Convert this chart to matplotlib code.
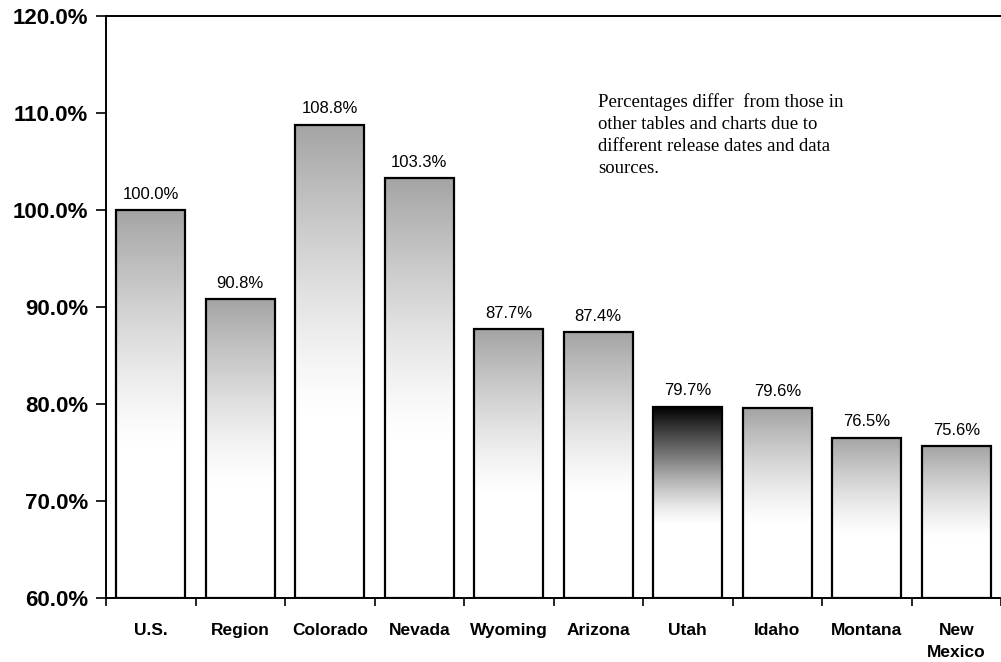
import numpy as np
import matplotlib.pyplot as plt
from matplotlib.colors import LinearSegmentedColormap

categories = ["U.S.", "Region", "Colorado", "Nevada", "Wyoming", "Arizona",
              "Utah", "Idaho", "Montana", "New\nMexico"]
values = [100.0, 90.8, 108.8, 103.3, 87.7, 87.4, 79.7, 79.6, 76.5, 75.6]
highlight = "Utah"
note = ("Percentages differ  from those in\nother tables and charts due to\n"
        "different release dates and data\nsources.")

fig = plt.figure(figsize=(10.01, 6.62), dpi=100)
ax = fig.add_axes([0.106, 0.097, 0.894, 0.879])

ymin, ymax = 60, 120
x = np.arange(len(categories))
width = 0.77

grey_cmap = LinearSegmentedColormap.from_list("g", ["white", "#a4a4a4"])
dark_cmap = LinearSegmentedColormap.from_list("d", ["white", "#777777", "black"])

bars = ax.bar(x, [v - ymin for v in values], bottom=ymin, width=width,
              facecolor="white", edgecolor="black", linewidth=1.6, zorder=3)
for b, cat, v in zip(bars, categories, values):
    bx = b.get_x()
    top = ymin + b.get_height()
    start = ymin + 0.38 * (top - ymin)
    grad = np.linspace(0, 1, 200).reshape(-1, 1) ** 1.3
    cmap = dark_cmap if cat == highlight else grey_cmap
    ax.imshow(grad, extent=(bx, bx + width, start, top), origin="lower",
              aspect="auto", cmap=cmap, vmin=0, vmax=1, zorder=4)
    b.set_facecolor("none")
    b.set_zorder(5)
    ax.annotate(f"{v:.1f}%", (b.get_x() + width / 2, top), xytext=(0, 6),
                textcoords="offset points", ha="center", va="bottom",
                fontsize=12, family="Liberation Sans")

ax.set_xlim(-0.5, len(categories) - 0.5)
ax.set_ylim(ymin, ymax)
ax.set_yticks(np.arange(60, 121, 10))
ax.set_yticklabels([f"{t:.1f}%" for t in np.arange(60, 121, 10)],
                   fontsize=16, fontweight="bold", family="Liberation Sans")
ax.tick_params(axis="y", direction="out", length=7, width=1.2, pad=6)

ax.set_xticks(x)
ax.set_xticklabels(categories, fontsize=12.5, fontweight="heavy",
                   family="Liberation Sans", va="top", linespacing=1.6)
ax.tick_params(axis="x", which="major", length=0, pad=18)
ax.set_xticks(np.arange(-0.5, len(categories), 1), minor=True)
ax.tick_params(axis="x", which="minor", direction="out", length=6, width=1.2)

for s in ["left", "bottom", "top"]:
    ax.spines[s].set_linewidth(1.4)
ax.spines["right"].set_visible(False)

ax.text(0.55, 0.868, note, transform=ax.transAxes, ha="left", va="top",
        fontsize=13.5, family="Liberation Serif", linespacing=1.4)

fig.savefig("out.png", dpi=100)
